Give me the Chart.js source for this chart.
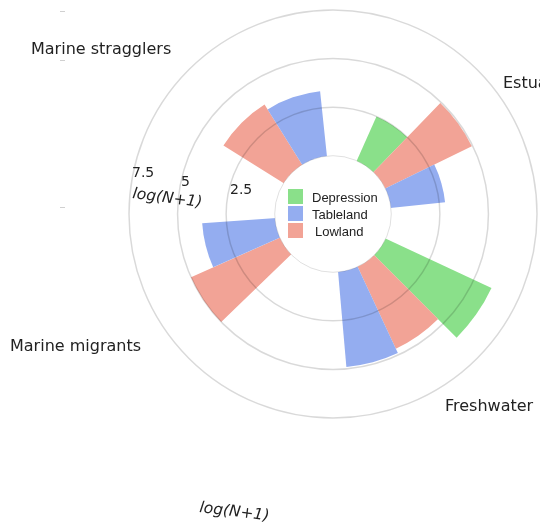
<!DOCTYPE html>
<html>
<head>
<meta charset="utf-8">
<script src="https://cdn.jsdelivr.net/npm/chart.js@4"></script>
<style>
  html, body { margin: 0; padding: 0; background: #fff; }
  #chart { display: block; }
</style>
</head>
<body>
<canvas id="chart" width="540" height="529"></canvas>
<script>
// Habitat groups, clockwise from the top right
const categories = ['Estuarine', 'Freshwater', 'Marine migrants', 'Marine stragglers'];

// log(N+1) per landscape, null = no bar
const depression = [2.5, 6.0, null, null];
const lowland = [4.95, 4.65, 5.0, 3.65];
const tableland = [2.8, 4.9, 3.75, 3.35];

const seriesNames = ['Depression', 'Tableland', 'Lowland'];
const radialTicks = [2.5, 5, 7.5];

// Layout of the circular bars (degrees, clockwise from 12 o'clock)
const groupStart = [24, 115, 206, 276];
const barWidth = [20, 20, 20, 26];
const holeMin = -3;   // scale starts below 0 so the bars leave a hole
const rMax = 7.5;

const colors = {
  Depression: '#8ae08a',
  Tableland: '#94adf0',
  Lowland: '#f2a396',
  text: '#222222'
};

// one polar-area element per bar, plus a blank spacer after each group
const values = [];
const angles = [];
const fills = [];
const labels = [];
categories.forEach((cat, g) => {
  const bars = [
    ['Depression', depression[g]],
    ['Lowland', lowland[g]],
    ['Tableland', tableland[g]]
  ];
  bars.forEach(([name, v]) => {
    values.push(v === null ? holeMin : v);
    angles.push(barWidth[g]);
    fills.push(colors[name]);
    labels.push(cat + ' ' + name);
  });
  const end = groupStart[g] + 3 * barWidth[g];
  const next = g + 1 < categories.length ? groupStart[g + 1] : groupStart[0] + 360;
  values.push(holeMin);
  angles.push(next - end);
  fills.push('rgba(0,0,0,0)');
  labels.push('');
});

const overlay = {
  id: 'overlay',
  afterDatasetsDraw(chart) {
    const s = chart.scales.r;
    const ctx = chart.ctx;
    const r0 = s.getDistanceFromCenterForValue(0);
    ctx.save();
    ctx.beginPath();
    ctx.arc(s.xCenter, s.yCenter, r0, 0, Math.PI * 2);
    ctx.fillStyle = '#ffffff';
    ctx.fill();
    ctx.strokeStyle = 'rgba(0,0,0,0.12)';
    ctx.lineWidth = 1;
    ctx.stroke();
    ctx.restore();
  },
  afterDraw(chart) {
    const ctx = chart.ctx;
    ctx.save();
    ctx.fillStyle = colors.text;
    ctx.textBaseline = 'alphabetic';
    ctx.textAlign = 'left';

    // angular labels
    ctx.font = '16px "DejaVu Sans"';
    ctx.fillText(categories[0], 503, 88);
    ctx.fillText(categories[1], 445, 411);
    ctx.fillText(categories[2], 10, 351);
    ctx.fillText(categories[3], 31, 54);

    // radial tick labels
    ctx.font = '14px "DejaVu Sans"';
    const tickPos = [[230, 194], [181, 186], [132, 177]];
    radialTicks.forEach((t, i) => ctx.fillText(String(t), tickPos[i][0], tickPos[i][1]));

    // radial axis title (shows up twice in the original)
    ctx.font = 'italic 15.5px "DejaVu Sans"';
    [[132, 198, 7.5], [199, 512, 7]].forEach(([x, y, rot]) => {
      ctx.save();
      ctx.translate(x, y);
      ctx.rotate(rot * Math.PI / 180);
      ctx.fillText('log(N+1)', 0, 0);
      ctx.restore();
    });

    // legend inside the hole
    ctx.font = '13px "Liberation Sans"';
    seriesNames.forEach((name, i) => {
      const y = 189 + i * 17;
      ctx.fillStyle = colors[name];
      ctx.fillRect(288, y, 15, 15);
      ctx.fillStyle = colors.text;
      ctx.fillText(name, name === 'Lowland' ? 315 : 312, y + 13);
    });

    // faint stray tick marks at the left
    ctx.strokeStyle = '#d0d0d0';
    ctx.lineWidth = 1;
    [11, 60, 207].forEach(y => {
      ctx.beginPath();
      ctx.moveTo(60, y + 0.5);
      ctx.lineTo(65, y + 0.5);
      ctx.stroke();
    });
    ctx.restore();
  }
};

new Chart(document.getElementById('chart'), {
  type: 'polarArea',
  data: {
    labels: labels,
    datasets: [{
      data: values,
      angle: angles,
      backgroundColor: fills,
      borderWidth: 0
    }]
  },
  options: {
    responsive: false,
    animation: false,
    layout: { padding: { left: 129, top: 10, right: 3, bottom: 111 } },
    plugins: {
      legend: { display: false },
      tooltip: { enabled: false }
    },
    scales: {
      r: {
        min: holeMin,
        max: rMax,
        startAngle: groupStart[0],
        afterBuildTicks(scale) {
          scale.ticks = radialTicks.map(v => ({ value: v }));
        },
        ticks: { display: false },
        grid: { color: 'rgba(0,0,0,0.15)', lineWidth: 1.5, z: 1 },
        angleLines: { display: false },
        pointLabels: { display: false }
      }
    }
  },
  plugins: [overlay]
});
</script>
</body>
</html>
